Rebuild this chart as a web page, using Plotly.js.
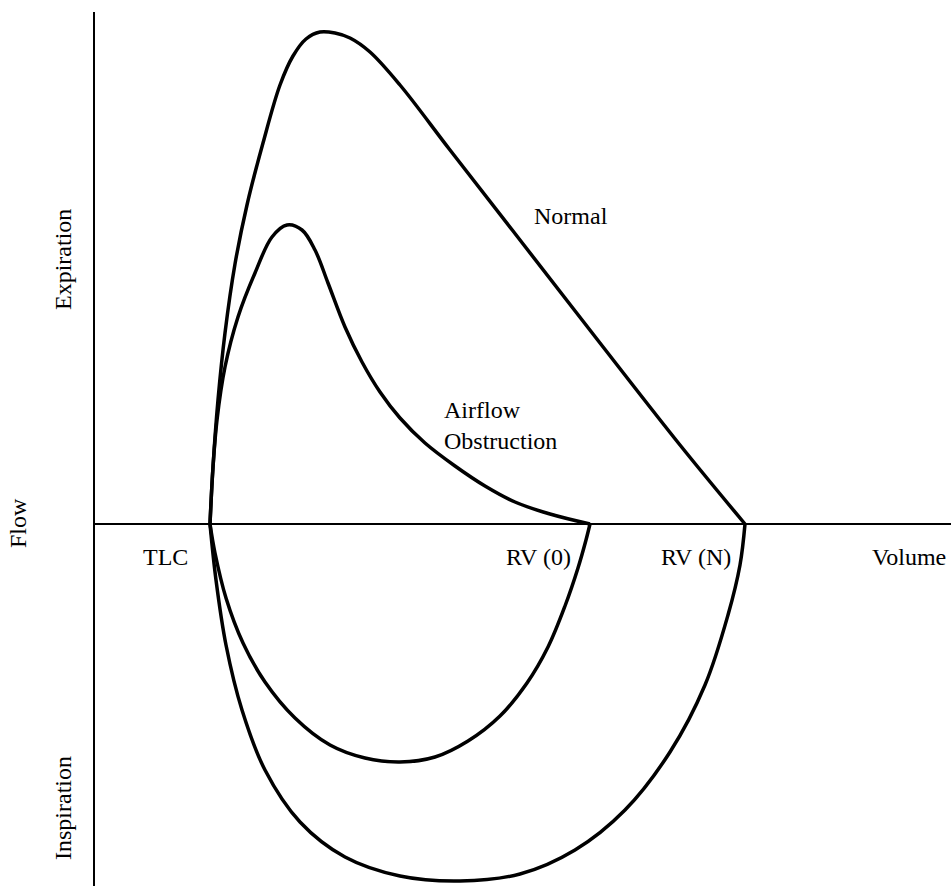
<!DOCTYPE html>
<html>
<head>
<meta charset="utf-8">
<script src="https://cdn.plot.ly/plotly-3.0.1.min.js"></script>
<style>html,body{margin:0;padding:0;background:#fff;}#chart{width:951px;height:886px;}</style>
</head>
<body>
<div id="chart"></div>
<script>
// Volume (x) and flow (y) in arbitrary units; TLC at volume 0, flow 0 on the horizontal axis.
const normalExpVolume = [0, 3, 8, 15, 25, 37, 53, 70, 83, 96, 110, 125, 140, 160, 190, 240, 310, 390, 470, 535];
const normalExpFlow   = [0, 57, 124, 191, 260, 319, 381, 439, 468, 485, 492, 491, 486, 472, 439, 374, 284, 181, 79, 0];

const normalInspVolume = [0, 6, 16, 32, 55, 90, 135, 190, 250, 310, 365, 415, 460, 495, 518, 530, 535];
const normalInspFlow   = [0, -56, -121, -186, -246, -298, -333, -352, -357, -350, -326, -286, -228, -161, -91, -41, 0];

const obstrExpVolume = [0, 3, 7, 15, 28, 45, 62, 77, 92, 105, 118, 135, 152, 170, 190, 215, 245, 275, 305, 340, 380];
const obstrExpFlow   = [0, 57, 104, 157, 207, 251, 287, 299, 294, 274, 241, 197, 162, 132, 106, 81, 58, 38, 22, 10, 0];

const obstrInspVolume = [0, 5, 16, 33, 55, 85, 120, 155, 190, 225, 258, 290, 317, 338, 355, 368, 376, 380];
const obstrInspFlow   = [0, -29, -74, -119, -158, -194, -221, -234, -238, -233, -217, -192, -159, -123, -82, -44, -16, 0];

const axisLabels = ["Expiration", "Flow", "Inspiration"];
const pointLabels = ["TLC", "RV (0)", "RV (N)", "Volume"];
const curveLabels = ["Normal", "Airflow<br>Obstruction"];

const lineStyle = {color: "#000", width: 3.5, shape: "spline", smoothing: 1};
function tr(x, y) {
  return {x: x, y: y, mode: "lines", type: "scatter", line: lineStyle, hoverinfo: "skip", showlegend: false};
}
const data = [
  tr(normalExpVolume, normalExpFlow),
  tr(normalInspVolume, normalInspFlow),
  tr(obstrExpVolume, obstrExpFlow),
  tr(obstrInspVolume, obstrInspFlow)
];

const font = {family: "'Liberation Serif', 'DejaVu Serif', serif", size: 24, color: "#000"};
const anns = [];
// rotated axis words, horizontal position in paper units (left margin)
const rotPos = [[63, 260], [18, 523], [63, 808]];
axisLabels.forEach((t, i) => {
  anns.push({text: t, xref: "paper", yref: "y", x: (rotPos[i][0] - 95) / 856, y: 524 - rotPos[i][1],
    textangle: -90, showarrow: false, font: font, xanchor: "center", yanchor: "middle"});
});
const ptPos = [[165, 557], [538, 557], [696, 557], [909, 557]];
pointLabels.forEach((t, i) => {
  anns.push({text: t, xref: "x", yref: "y", x: ptPos[i][0] - 210, y: 524 - ptPos[i][1],
    showarrow: false, font: font, xanchor: "center", yanchor: "middle"});
});
anns.push({text: curveLabels[0], xref: "x", yref: "y", x: 571 - 210, y: 524 - 216,
  showarrow: false, font: font, xanchor: "center", yanchor: "middle"});
anns.push({text: curveLabels[1], xref: "x", yref: "y", x: 442 - 210, y: 524 - 425,
  showarrow: false, font: font, xanchor: "left", yanchor: "middle", align: "left"});

const layout = {
  width: 951, height: 886,
  margin: {l: 95, r: 0, t: 12, b: 0, pad: 0},
  paper_bgcolor: "#fff", plot_bgcolor: "#fff",
  showlegend: false,
  xaxis: {range: [-115, 741], showgrid: false, zeroline: false, showticklabels: false, ticks: "", showline: false, fixedrange: true},
  yaxis: {range: [-362, 512], showgrid: false, zeroline: true, zerolinecolor: "#000", zerolinewidth: 2,
    showticklabels: false, ticks: "", showline: true, linecolor: "#000", linewidth: 2, fixedrange: true},
  annotations: anns
};
Plotly.newPlot("chart", data, layout, {staticPlot: true, displayModeBar: false});
</script>
</body>
</html>
